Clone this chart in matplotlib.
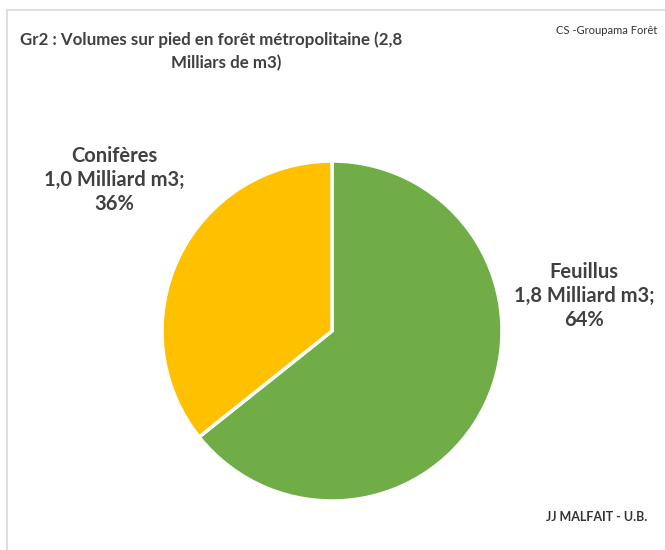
import matplotlib.pyplot as plt
from matplotlib.patches import Rectangle

# Data
labels = ["Feuillus", "Conifères"]
volumes = [1.8, 1.0]
shares = [64, 36]
colors = ["#70AD47", "#FFC000"]

plt.rcParams['font.family'] = ['Lato', 'DejaVu Sans']

W, H = 665, 550
fig = plt.figure(figsize=(W / 100, H / 100), dpi=100)
ax = fig.add_axes([0, 0, 1, 1])

# pie (y axis measured from bottom)
ax.pie(volumes, colors=colors, startangle=90, counterclock=False,
       center=(332, H - 331), radius=170,
       wedgeprops=dict(edgecolor="white", linewidth=2.5))
ax.set_xlim(0, W)
ax.set_ylim(0, H)
ax.set_aspect("equal")
ax.axis("off")

# chart border
ax.add_patch(Rectangle((7, -5), W, H - 10 + 5, fill=False,
                       edgecolor="#D9D9D9", linewidth=1.2))

txt = "#404040"
ax.text(20, H - 40, "Gr2 : Volumes sur pied en forêt métropolitaine (2,8",
        fontsize=12.2, fontweight="bold", color=txt, ha="left", va="center")
ax.text(226, H - 63, "Milliars de m3)",
        fontsize=12.2, fontweight="bold", color=txt, ha="center", va="center")
ax.text(556, H - 30, "CS -Groupama Forêt", fontsize=8, color="#333333",
        ha="left", va="center")
ax.text(597, H - 517, "JJ MALFAIT - U.B.", fontsize=9, fontweight="bold",
        color="#333333", ha="center", va="center")

# data labels
lab_pos = [(584, H - 296), (114, H - 180)]
for name, v, s, (x, y) in zip(labels, volumes, shares, lab_pos):
    vs = f"{v:.1f}".replace(".", ",")
    ax.text(x, y, f"{name}\n{vs} Milliard m3;\n{s}%", fontsize=14.5,
            fontweight="bold", color=txt, ha="center", va="center",
            linespacing=1.25)

fig.savefig("out.png", dpi=100)
